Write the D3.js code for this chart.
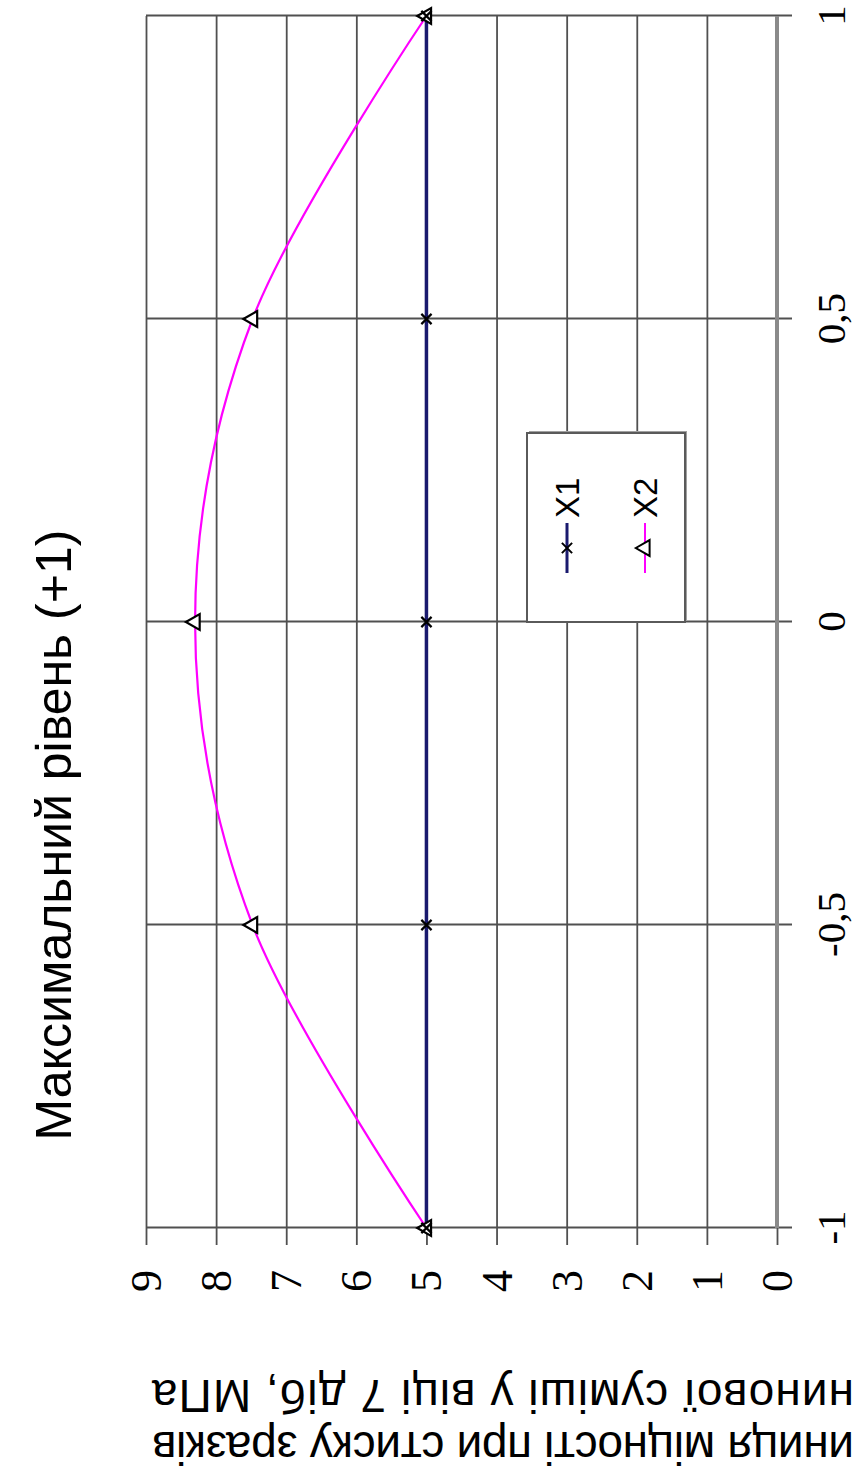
<!DOCTYPE html>
<html>
<head>
<meta charset="utf-8">
<script src="https://cdn.jsdelivr.net/npm/d3@7/dist/d3.min.js"></script>
<style>
  html, body { margin: 0; padding: 0; background: #fff; }
  svg { display: block; }
</style>
</head>
<body>
<div id="chart"></div>
<script>
// Factor levels on the horizontal axis
const levels = [-1, -0.5, 0, 0.5, 1];
const levelLabels = ["-1", "-0,5", "0", "0,5", "1"];
// Strength response for each factor (others held at +1)
const seriesNames = ["X1", "X2"];
const x1Values = [5, 5, 5, 5, 5];
const x2Values = [5, 7.48, 8.3, 7.48, 5];
// Value axis ticks
const valueTicks = [0, 1, 2, 3, 4, 5, 6, 7, 8, 9];

const titleText = "Максимальний рівень (+1)";
const yLabelLines = ["иниця міцності при стиску зразків", "нинової суміші у віці 7 діб, МПа"];

const PAGE_W = 856, PAGE_H = 1479;
// The chart is laid out landscape (W x H) and turned a quarter turn onto the page.
const W = PAGE_H, H = PAGE_W;

const svg = d3.select("#chart").append("svg")
  .attr("width", PAGE_W).attr("height", PAGE_H)
  .attr("viewBox", `0 0 ${PAGE_W} ${PAGE_H}`);
svg.append("rect").attr("width", PAGE_W).attr("height", PAGE_H).attr("fill", "#fff");

const g = svg.append("g").attr("transform", `translate(0,${PAGE_H}) rotate(-90)`);

const plot = { left: 251, right: 1463, top: 146, bottom: 777 };
const x = d3.scaleLinear().domain([-1, 1]).range([plot.left, plot.right]);
const y = d3.scaleLinear().domain([0, 9]).range([plot.bottom, plot.top]);

const gridColor = "#505050";

// Horizontal value gridlines (with outward ticks on the left)
const yAxis = d3.axisLeft(y).tickValues(valueTicks)
  .tickSize(-(plot.right - plot.left)).tickSizeOuter(0).tickPadding(24)
  .tickFormat(d => String(d));
const yg = g.append("g").attr("transform", `translate(${plot.left},0)`).call(yAxis);
yg.select(".domain").remove();
yg.selectAll(".tick line")
  .attr("x1", -17)
  .attr("stroke", gridColor).attr("stroke-width", 1.8);
yg.selectAll(".tick text")
  .attr("font-family", "'Liberation Serif', 'Times New Roman', serif")
  .attr("font-size", 44).attr("fill", "#000")
  .attr("x", -(plot.left - 209)).attr("dy", "0.33em");

// Vertical level gridlines (with outward ticks below)
const xAxis = d3.axisBottom(x).tickValues(levels)
  .tickSize(-(plot.bottom - plot.top)).tickSizeOuter(0)
  .tickFormat((d, i) => levelLabels[i]);
const xg = g.append("g").attr("transform", `translate(0,${plot.bottom})`).call(xAxis);
xg.select(".domain").remove();
xg.selectAll(".tick line")
  .attr("y1", 15)
  .attr("stroke", gridColor).attr("stroke-width", 1.8);
xg.selectAll(".tick text")
  .attr("font-family", "'Liberation Serif', 'Times New Roman', serif")
  .attr("font-size", 41).attr("fill", "#000")
  .attr("y", 68).attr("dy", 0);

// Category axis line along value 0
g.append("line")
  .attr("x1", plot.left).attr("x2", plot.right)
  .attr("y1", y(0)).attr("y2", y(0))
  .attr("stroke", "#8a8a8a").attr("stroke-width", 4);

// Series lines
const lineGen = d3.line()
  .x((d, i) => x(levels[i]))
  .y(d => y(d));
const smoothGen = d3.line()
  .x((d, i) => x(levels[i]))
  .y(d => y(d))
  .curve(d3.curveCatmullRom.alpha(0));

g.append("path").datum(x2Values)
  .attr("d", smoothGen)
  .attr("fill", "none").attr("stroke", "#ff00ff").attr("stroke-width", 2.2);

g.append("path").datum(x1Values)
  .attr("d", lineGen)
  .attr("fill", "none").attr("stroke", "#1a1a6e").attr("stroke-width", 3.5);

// Markers
const crossPath = d3.symbol().type(d3.symbolX).size(70);
const triPath = d3.symbol().type(d3.symbolTriangle).size(110);

g.selectAll(".m2").data(x2Values).enter().append("path")
  .attr("class", "m2")
  .attr("transform", (d, i) => `translate(${x(levels[i])},${y(d)})`)
  .attr("d", triPath)
  .attr("fill", "#fff").attr("stroke", "#000").attr("stroke-width", 2.2);

g.selectAll(".m1").data(x1Values).enter().append("path")
  .attr("class", "m1")
  .attr("transform", (d, i) => `translate(${x(levels[i])},${y(d)})`)
  .attr("d", crossPath)
  .attr("fill", "none").attr("stroke", "#000").attr("stroke-width", 2.2);

// Legend
const lg = g.append("g");
const box = { x: 857, y: 527, w: 189, h: 158 };
lg.append("rect")
  .attr("x", box.x + 2).attr("y", box.y + 2).attr("width", box.w).attr("height", box.h)
  .attr("fill", "#a0a0a0");
lg.append("rect")
  .attr("x", box.x).attr("y", box.y).attr("width", box.w).attr("height", box.h)
  .attr("fill", "#fff").attr("stroke", "#5a5a5a").attr("stroke-width", 2);

const legendRows = [
  { name: seriesNames[0], color: "#1a1a6e", sym: crossPath, width: 3, fill: "none", cy: 567 },
  { name: seriesNames[1], color: "#ff00ff", sym: triPath, width: 2, fill: "#fff", cy: 645 }
];
legendRows.forEach(r => {
  lg.append("line").attr("x1", 906).attr("x2", 956).attr("y1", r.cy).attr("y2", r.cy)
    .attr("stroke", r.color).attr("stroke-width", r.width);
  lg.append("path").attr("d", r.sym)
    .attr("transform", `translate(931,${r.cy})`)
    .attr("fill", r.fill).attr("stroke", "#000").attr("stroke-width", 2);
  lg.append("text").attr("x", 961).attr("y", r.cy).attr("dy", "0.36em")
    .attr("font-family", "'Liberation Sans', Arial, sans-serif")
    .attr("font-size", 33).attr("fill", "#000").text(r.name);
});

// Title
g.append("text")
  .attr("x", 644).attr("y", 71)
  .attr("text-anchor", "middle")
  .attr("font-family", "'Liberation Sans', Arial, sans-serif")
  .attr("font-size", 50).attr("fill", "#000")
  .text(titleText);

// Value axis title (two lines, rotated)
yLabelLines.forEach((line, i) => {
  const bx = i === 0 ? 47 : 99;
  g.append("text")
    .attr("transform", `translate(${bx},${H - 2}) rotate(-90)`)
    .attr("text-anchor", "start")
    .attr("font-family", "'Liberation Sans', Arial, sans-serif")
    .attr("font-size", 46).attr("fill", "#000")
    .attr("textLength", 702).attr("lengthAdjust", "spacing")
    .text(line);
});
</script>
</body>
</html>
